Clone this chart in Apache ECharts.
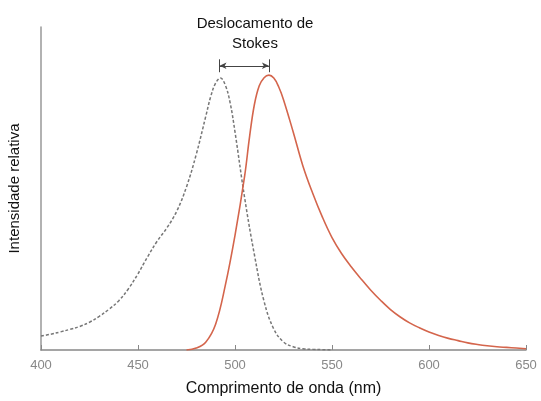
<!DOCTYPE html>
<html><head><meta charset="utf-8">
<script src="https://cdn.jsdelivr.net/npm/echarts@6/dist/echarts.min.js"></script>
<style>html,body{margin:0;padding:0;background:#fff}#c{width:541px;height:401px}</style>
</head><body><div id="c"></div>
<script>
var xTicks = [400, 450, 500, 550, 600, 650];
var excitationX = [400, 405, 410, 415, 420, 425, 430, 435, 440, 445, 450, 455, 460, 465, 470, 475, 480, 485, 487.5, 490, 492.5, 495, 497.5, 500, 505, 510, 515, 520, 525, 530, 535, 540, 545, 550];
var excitationY = [4.3, 4.9, 5.6, 6.4, 7.3, 8.6, 10.4, 12.6, 15.2, 18.9, 23.6, 28.9, 33.8, 37.9, 43, 50.5, 60.5, 72.5, 78.5, 82.6, 84.2, 82, 76.5, 67.5, 47, 29.5, 15, 6.5, 2.5, 1, 0.4, 0.2, 0.1, 0];
var emissionX = [475, 480, 485, 490, 495, 500, 505, 507.5, 510, 512.5, 515, 517.5, 520, 522.5, 525, 530, 535, 540, 545, 550, 555, 560, 565, 570, 575, 580, 585, 590, 595, 600, 605, 610, 615, 620, 625, 630, 635, 640, 645, 650];
var emissionY = [0, 0.6, 2.5, 8, 20, 35.5, 54, 66, 76, 81.8, 84.3, 85.1, 84.2, 81.5, 77.5, 67.5, 57, 48.6, 41.2, 34.8, 29.8, 25.7, 22, 18.5, 15.4, 12.6, 10.3, 8.4, 6.9, 5.6, 4.5, 3.6, 2.9, 2.2, 1.7, 1.3, 1, 0.8, 0.6, 0.4];
var shiftStart = 492, shiftEnd = 517.5, shiftLevel = 88;

function pairs(xs, ys){ return xs.map(function(x,i){return [x, ys[i]];}); }

var chart = echarts.init(document.getElementById('c'));
chart.setOption({
  animation: false,
  grid: {left: 41, right: 15, top: 27, bottom: 51, outerBoundsMode: 'none'},
  title: {
    text: 'Deslocamento de\nStokes', left: 250, top: 9, textAlign: 'center',
    textStyle: {fontFamily: 'Liberation Sans', fontSize: 15, fontWeight: 'normal', color: '#111', lineHeight: 20}
  },
  xAxis: {
    type: 'value', min: 400, max: 650, interval: 50,
    name: 'Comprimento de onda (nm)', nameLocation: 'middle', nameGap: 31,
    nameTextStyle: {fontFamily: 'Liberation Sans', fontSize: 16, color: '#111'},
    axisLine: {lineStyle: {color: '#888', width: 1.5}},
    axisTick: {inside: true, length: 5, lineStyle: {color: '#888'}},
    axisLabel: {color: '#888', fontFamily: 'Liberation Sans', fontSize: 13, margin: 9,
      customValues: xTicks},
    splitLine: {show: false}
  },
  yAxis: {
    type: 'value', min: 0, max: 100,
    name: 'Intensidade relativa', nameLocation: 'middle', nameGap: 19,
    nameTextStyle: {fontFamily: 'Liberation Sans', fontSize: 15, color: '#111'},
    axisLine: {show: true, lineStyle: {color: '#999', width: 1.5}},
    axisTick: {show: false}, axisLabel: {show: false}, splitLine: {show: false}
  },
  series: [
    {type: 'line', data: pairs(excitationX, excitationY), smooth: 0.4, symbol: 'none',
      lineStyle: {color: '#777', width: 1.5, type: [3, 2]},
      markLine: {
        silent: true, symbol: ['arrow', 'arrow'], symbolSize: [5, 7],
        label: {show: false},
        lineStyle: {color: '#444', width: 1, type: 'solid'},
        data: [[{coord: [shiftStart, shiftLevel]}, {coord: [shiftEnd, shiftLevel]}]]
      }
    },
    {type: 'line', data: pairs(emissionX, emissionY), smooth: 0.4, symbol: 'none',
      lineStyle: {color: '#d4654c', width: 1.6},
      markLine: {
        silent: true, symbol: ['none', 'none'], label: {show: false},
        lineStyle: {color: '#444', width: 1, type: 'solid'},
        data: [
          [{coord: [shiftStart, shiftLevel - 2]}, {coord: [shiftStart, shiftLevel + 2]}],
          [{coord: [shiftEnd, shiftLevel - 2]}, {coord: [shiftEnd, shiftLevel + 2]}],
          [{coord: [(shiftStart + shiftEnd) / 2, shiftLevel + 3.2], label: {show: true, position: 'middle', formatter: '26 nm', color: '#888', fontSize: 7, fontFamily: 'Liberation Sans'}, lineStyle: {opacity: 0}}, {coord: [(shiftStart + shiftEnd) / 2, shiftLevel + 3.3]}]
        ]
      }
    }
  ]
});
</script></body></html>
